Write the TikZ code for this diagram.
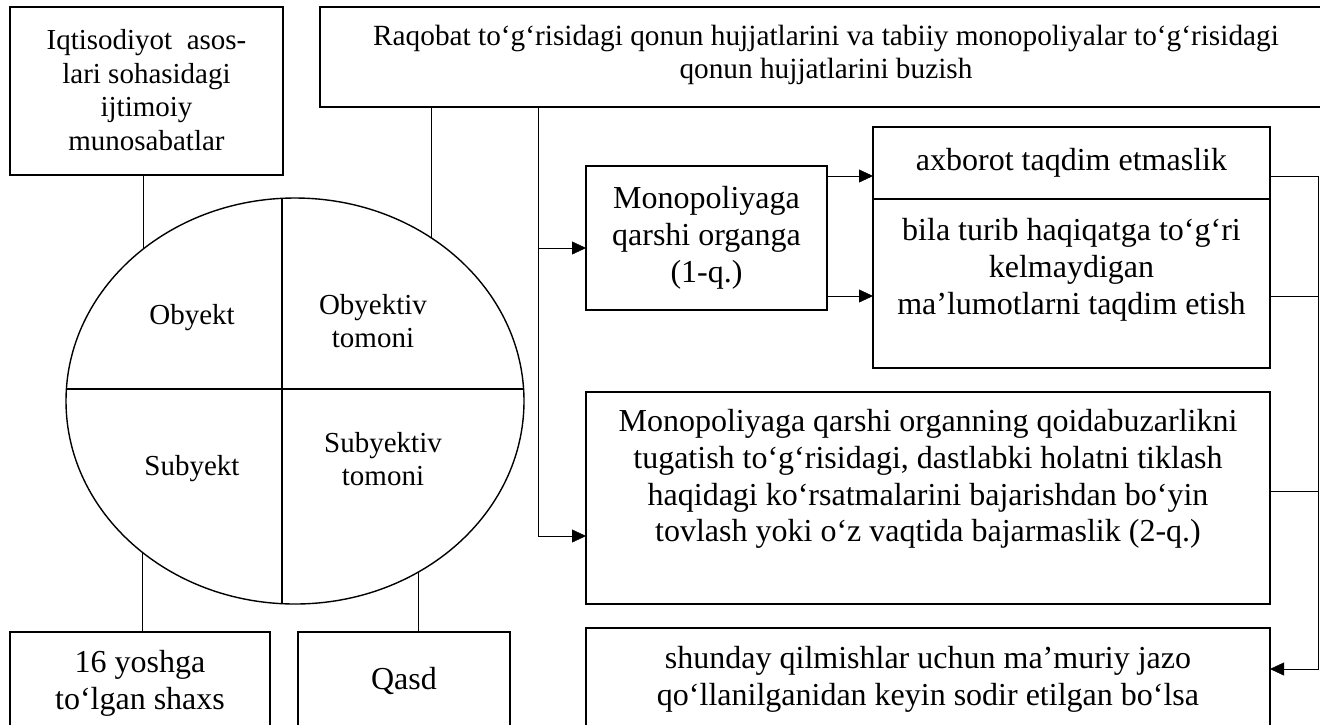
\documentclass[tikz,border=0pt]{standalone}
\usepackage{fontspec}
\setmainfont{Liberation Serif}
\usetikzlibrary{arrows.meta,shapes.geometric,backgrounds}
\begin{document}
\begin{tikzpicture}[x=1pt,y=-1pt,line width=1.4pt,
  box/.style={draw,rectangle,inner sep=0pt,outer sep=0pt},
  big/.style={font=\fontsize{32}{36.8}\selectfont,align=center,inner sep=0pt},
  sml/.style={font=\fontsize{29}{33.5}\selectfont,align=center,inner sep=0pt},
  ttl/.style={font=\fontsize{29.3}{33.5}\selectfont,align=center,inner sep=0pt},
  arr/.style={-{Triangle[length=14pt,width=13pt]}}]
\useasboundingbox (0,0) rectangle (1320,724);
\clip (0,0) rectangle (1320,724);

% boxes
\node[box,minimum width=273pt,minimum height=168pt] (tl) at (146.5,91) {};
\node[sml] (tlt) at (146.5,90) {Iqtisodiyot~ asos-\\lari sohasidagi\\ijtimoiy\\munosabatlar};

\node[box,minimum width=1080pt,minimum height=100pt] (top) at (860,57) {};
\node[ttl] (topt) at (826,55) {Raqobat to‘g‘risidagi qonun hujjatlarini va tabiiy monopoliyalar to‘g‘risidagi\\qonun hujjatlarini buzish};

\node[box,minimum width=241pt,minimum height=144pt] (m1) at (706.5,238) {};
\node[big] (m1t) at (706.5,238) {Monopoliyaga\\qarshi organga\\(1-q.)};

\node[box,minimum width=397pt,minimum height=72pt] (axb) at (1071.5,163) {};
\node[big] (axbt) at (1071.5,163) {axborot taqdim etmaslik};

\node[box,minimum width=397pt,minimum height=169pt] (bila) at (1071.5,283.5) {};
\node[big] (bilat) at (1071.5,270) {bila turib haqiqatga to‘g‘ri\\kelmaydigan\\ma’lumotlarni taqdim etish};

\node[box,minimum width=684pt,minimum height=212pt] (q2) at (928,498) {};
\node[big] (q2t) at (928,479) {Monopoliyaga qarshi organning qoidabuzarlikni\\tugatish to‘g‘risidagi, dastlabki holatni tiklash\\haqidagi ko‘rsatmalarini bajarishdan bo‘yin\\tovlash yoki o‘z vaqtida bajarmaslik (2-q.)};

\node[box,minimum width=684pt,minimum height=116pt] (sh) at (928,686) {};
\node[big] (sht) at (928,679) {shunday qilmishlar uchun ma’muriy jazo\\qo‘llanilganidan keyin sodir etilgan bo‘lsa};

\node[box,minimum width=260pt,minimum height=112pt] (b1) at (140,688) {};
\node[big] (b1t) at (140,683.5) {16 yoshga\\to‘lgan shaxs};

\node[box,minimum width=212pt,minimum height=112pt] (b2) at (404,688) {};
\node[big] (b2t) at (404,681) {Qasd};

% ellipse
\node[draw,ellipse,fill=white,minimum width=458pt,minimum height=406pt,inner sep=0pt,outer sep=0pt] (el) at (295,401) {};
\begin{scope}
  \clip (el.center) ellipse [x radius=229pt,y radius=203pt];
  \draw (282,150) -- (282,650);
  \draw (0,389) -- (600,389);
\end{scope}
\node[sml] (ob) at (192,318) {Obyekt};
\node[sml] (obt) at (373,321) {Obyektiv\\tomoni};
\node[sml] (sb) at (192,468.5) {Subyekt};
\node[sml] (sbt) at (383,459) {Subyektiv\\tomoni};

% helper coordinates
\coordinate (c1) at (143,0);
\coordinate (c2) at (431,0);
\coordinate (c3) at (142,0);
\coordinate (c4) at (418,0);
\coordinate (c5) at (538,0);
\coordinate (bus) at (1318,0);
\coordinate (y1) at (0,248);
\coordinate (y2) at (0,536);
\coordinate (ya) at (0,176);
\coordinate (yb) at (0,296);
\coordinate (yd) at (0,491);
\coordinate (ye) at (0,669);

\begin{pgfonlayer}{background}
  \draw (tl.south -| c1) -- (el.center -| c1);
  \draw (top.south -| c2) -- (el.center -| c2);
  \draw (b1.north -| c3) -- (el.center -| c3);
  \draw (b2.north -| c4) -- (el.center -| c4);
\end{pgfonlayer}

\draw (top.south -| c5) -- (c5 |- y2);
\draw[arr] (c5 |- y1) -- (m1.west |- y1);
\draw[arr] (c5 |- y2) -- (q2.west |- y2);
\draw[arr] (m1.east |- ya) -- (axb.west |- ya);
\draw[arr] (m1.east |- yb) -- (bila.west |- yb);
\draw[arr] (axb.east |- ya) -- (bus |- ya) -- (bus |- ye) -- (sh.east |- ye);
\draw (bila.east |- yb) -- (bus |- yb);
\draw (q2.east |- yd) -- (bus |- yd);
\end{tikzpicture}
\end{document}
